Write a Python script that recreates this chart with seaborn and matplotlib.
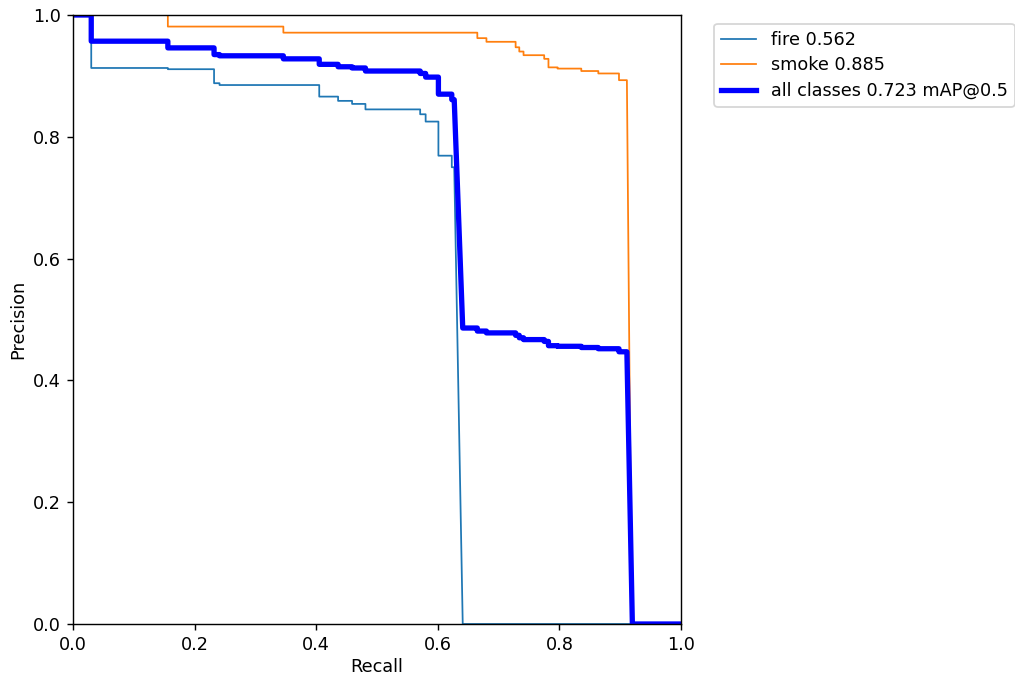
import numpy as np
import pandas as pd
import matplotlib
matplotlib.use("Agg")
import matplotlib.pyplot as plt
import seaborn as sns

# ---- data (recall, precision vertices) ----
fire_recall = [0.0, 0.030, 0.030, 0.156, 0.156, 0.232, 0.232, 0.241, 0.241, 0.405, 0.405,
               0.436, 0.436, 0.459, 0.459, 0.481, 0.481, 0.571, 0.571, 0.580, 0.580,
               0.601, 0.601, 0.623, 0.623, 0.627, 0.641, 1.0]
fire_precision = [1.0, 1.0, 0.913, 0.913, 0.911, 0.911, 0.888, 0.888, 0.885, 0.885, 0.866,
                  0.866, 0.859, 0.859, 0.854, 0.854, 0.845, 0.845, 0.837, 0.837, 0.825,
                  0.825, 0.769, 0.769, 0.750, 0.750, 0.0, 0.0]

smoke_recall = [0.0, 0.156, 0.156, 0.346, 0.346, 0.665, 0.665, 0.680, 0.680, 0.728, 0.728,
                0.734, 0.734, 0.741, 0.741, 0.775, 0.775, 0.782, 0.782, 0.797, 0.797,
                0.836, 0.836, 0.864, 0.864, 0.898, 0.898, 0.911, 0.919, 1.0]
smoke_precision = [1.0, 1.0, 0.981, 0.981, 0.971, 0.971, 0.962, 0.962, 0.956, 0.956, 0.947,
                   0.947, 0.940, 0.940, 0.934, 0.934, 0.928, 0.928, 0.914, 0.914, 0.912,
                   0.912, 0.908, 0.908, 0.904, 0.904, 0.893, 0.893, 0.0, 0.0]

all_recall = [0.0, 0.030, 0.030, 0.156, 0.156, 0.232, 0.232, 0.241, 0.241, 0.346, 0.346,
              0.405, 0.405, 0.436, 0.436, 0.459, 0.459, 0.481, 0.481, 0.571, 0.571,
              0.580, 0.580, 0.601, 0.601, 0.623, 0.623, 0.627, 0.641, 0.665, 0.665,
              0.680, 0.680, 0.728, 0.728, 0.734, 0.734, 0.741, 0.741, 0.775, 0.775,
              0.782, 0.782, 0.797, 0.797, 0.836, 0.836, 0.864, 0.864, 0.898, 0.898,
              0.911, 0.920, 1.0]
all_precision = [1.0, 1.0, 0.957, 0.957, 0.946, 0.946, 0.935, 0.935, 0.933, 0.933, 0.928,
                 0.928, 0.919, 0.919, 0.915, 0.915, 0.913, 0.913, 0.908, 0.908, 0.904,
                 0.904, 0.898, 0.898, 0.870, 0.870, 0.861, 0.861, 0.486, 0.486, 0.481,
                 0.481, 0.478, 0.478, 0.474, 0.474, 0.470, 0.470, 0.467, 0.467, 0.464,
                 0.464, 0.457, 0.457, 0.456, 0.456, 0.454, 0.454, 0.452, 0.452, 0.447,
                 0.447, 0.0, 0.0]

labels = ["fire 0.562", "smoke 0.885", "all classes 0.723 mAP@0.5"]

DPI = 127
fig = plt.figure(figsize=(1015 / DPI, 677 / DPI), dpi=DPI)
ax = fig.add_axes([73 / 1015, 1 - 624 / 677, 608 / 1015, 609 / 677])

sns.lineplot(x=fire_recall, y=fire_precision, ax=ax, sort=False, estimator=None,
             color="#1f77b4", linewidth=1, label=labels[0])
sns.lineplot(x=smoke_recall, y=smoke_precision, ax=ax, sort=False, estimator=None,
             color="#ff7f0e", linewidth=1, label=labels[1])
sns.lineplot(x=all_recall, y=all_precision, ax=ax, sort=False, estimator=None,
             color="blue", linewidth=3, label=labels[2])

ax.set_xlabel("Recall", labelpad=2)
ax.set_ylabel("Precision", labelpad=3)
ax.set_xlim(0, 1)
ax.set_ylim(0, 1)
ax.legend(bbox_to_anchor=(1.04, 1), loc="upper left", labelspacing=0.42)

fig.savefig("out.png", dpi=DPI)
